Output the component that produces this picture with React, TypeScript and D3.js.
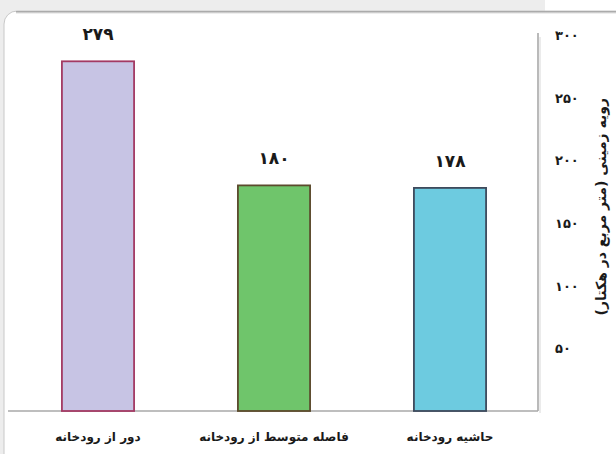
import React from "react";
import * as d3 from "d3";

const categories = ["دور از رودخانه", "فاصله متوسط از رودخانه", "حاشیه رودخانه"];
const values = [279, 180, 178];
const yTicks = [50, 100, 150, 200, 250, 300];
const yTitle = "رویه زمینی (متر مربع در هکتار)";

const fills = ["#c7c4e4", "#6fc56b", "#6dcbe0"];
const strokes = ["#a33a63", "#5b4a2c", "#3d4a5c"];

const W = 616;
const H = 454;

const fa = (n: number) =>
  String(n).replace(/[0-9]/g, (d) => "۰۱۲۳۴۵۶۷۸۹"[+d]);

export default function App() {
  const x = d3
    .scaleBand<string>()
    .domain(categories)
    .range([10, 538])
    .paddingInner(0.59)
    .paddingOuter(0.295);
  const y = d3.scaleLinear().domain([0, 300]).range([411, 35]);
  const font = "'DejaVu Sans', sans-serif";

  return (
    <svg
      width={W}
      height={H}
      style={{ position: "absolute", left: 0, top: 0 }}
      xmlns="http://www.w3.org/2000/svg"
    >
      <defs>
        <linearGradient id="topShade" x1="0" y1="0" x2="0" y2="1">
          <stop offset="0" stopColor="#9a9a9a" />
          <stop offset="1" stopColor="#ffffff" />
        </linearGradient>
      </defs>
      <rect x={0} y={0} width={W} height={H} fill="#ededed" />
      <rect x={545} y={0} width={W - 545} height={12} fill="#ffffff" />
      <rect x={4} y={11} width={W + 20} height={H + 20} rx={13} fill="#ffffff" stroke="#c8c8c8" strokeWidth={1} />
      <rect x={16} y={11} width={W} height={3} fill="url(#topShade)" />

      {/* axes */}
      <line x1={8} x2={538} y1={y(0)} y2={y(0)} stroke="#a9a9a9" strokeWidth={1.6} />
      <line x1={538} x2={538} y1={y(300) - 2} y2={y(0)} stroke="#a9a9a9" strokeWidth={1.6} />
      <line x1={540} x2={540} y1={y(300) + 2} y2={y(0) + 2} stroke="#e4e4e4" strokeWidth={1.5} />

      {/* bars */}
      {categories.map((c, i) => (
        <g key={c}>
          <rect
            x={x(c)!}
            y={y(values[i])}
            width={x.bandwidth()}
            height={y(0) - y(values[i])}
            fill={fills[i]}
            stroke={strokes[i]}
            strokeWidth={1.8}
          />
          <text
            x={x(c)! + x.bandwidth() / 2}
            y={y(values[i]) - 21}
            textAnchor="middle"
            fontFamily={font}
            fontWeight="bold"
            fontSize={17}
            fill="#1a1a1a"
          >
            {fa(values[i])}
          </text>
          <text
            x={x(c)! + x.bandwidth() / 2}
            y={441}
            textAnchor="middle"
            fontFamily={font}
            fontWeight="bold"
            fontSize={12}
            fill="#1a1a1a"
            direction="rtl"
          >
            {c}
          </text>
        </g>
      ))}

      {/* y ticks on right */}
      {yTicks.map((t) => (
        <text
          key={t}
          x={555}
          y={y(t) + 5}
          textAnchor="start"
          fontFamily={font}
          fontWeight="bold"
          fontSize={13}
          fill="#1a1a1a"
        >
          {fa(t)}
        </text>
      ))}

      <text
        transform={`translate(606, ${y(163)}) rotate(-90)`}
        textAnchor="middle"
        fontFamily={font}
        fontWeight="bold"
        fontSize={14}
        fill="#1a1a1a"
        direction="rtl"
      >
        {yTitle}
      </text>
    </svg>
  );
}
